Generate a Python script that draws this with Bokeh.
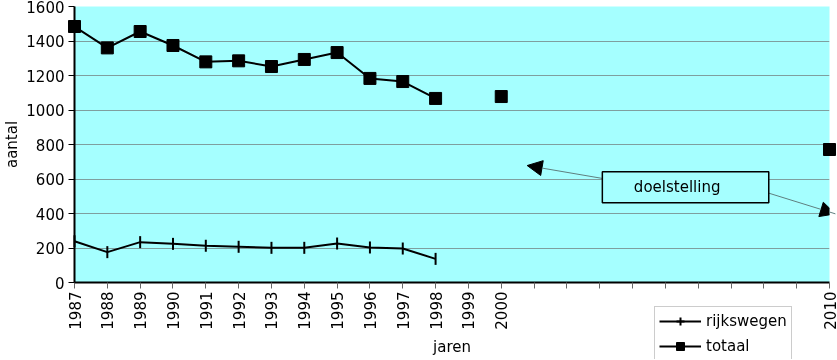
import math
from bokeh.plotting import figure
from bokeh.models import (FixedTicker, Legend, LegendItem, Arrow, NormalHead,
                          BoxAnnotation, Label, Range1d)
from bokeh.embed import file_html
from bokeh.resources import INLINE

# ---- data ----
years = ["1987", "1988", "1989", "1990", "1991", "1992", "1993", "1994",
         "1995", "1996", "1997", "1998", "1999", "2000", "2001", "2002",
         "2003", "2004", "2005", "2006", "2007", "2008", "2009", "2010"]
tick_labels = ["1987", "1988", "1989", "1990", "1991", "1992", "1993", "1994",
               "1995", "1996", "1997", "1998", "1999", "2000", "", "", "", "",
               "", "", "", "", "", "2010"]
NaN = float("nan")
totaal = [1484, 1360, 1455, 1374, 1279, 1285, 1252, 1293, 1333, 1183, 1165,
          1067, NaN, 1078, NaN, NaN, NaN, NaN, NaN, NaN, NaN, NaN, NaN, 771]
rijkswegen = [239, 176, 234, 224, 213, 207, 201, 201, 226, 203, 197, 137,
              NaN, NaN, NaN, NaN, NaN, NaN, NaN, NaN, NaN, NaN, NaN, NaN]
y_ticks = [0, 200, 400, 600, 800, 1000, 1200, 1400, 1600]
series_names = ["rijkswegen", "totaal"]

xs = list(range(len(years)))

FONT = "DejaVu Sans"
CYAN = "#A5FFFF"

p = figure(width=837, height=360, output_backend="svg", toolbar_location=None,
           x_range=Range1d(0, len(years) - 1), y_range=Range1d(0, 1600),
           min_border_left=74, min_border_right=8, min_border_top=6,
           min_border_bottom=78)
p.styles = {"position": "fixed", "left": "0px", "top": "0px"}
p.background_fill_color = CYAN
p.border_fill_color = "white"
p.outline_line_color = None

# axes
p.xaxis.ticker = FixedTicker(ticks=xs)
p.xaxis.major_label_overrides = {i: t for i, t in enumerate(tick_labels)}
p.xaxis.major_label_orientation = math.pi / 2
p.xaxis.axis_label = "jaren"
p.yaxis.ticker = FixedTicker(ticks=y_ticks)
p.yaxis.axis_label = "aantal"
for ax in (p.xaxis[0], p.yaxis[0]):
    ax.axis_line_color = "black"
    ax.axis_line_width = 2
    ax.major_tick_line_color = "black"
    ax.major_tick_line_width = 1
    ax.major_tick_in = 0
    ax.major_tick_out = 6
    ax.minor_tick_line_color = None
    ax.major_label_text_font = FONT
    ax.major_label_text_font_size = "15px"
    ax.major_label_text_color = "black"
    ax.axis_label_text_font = FONT
    ax.axis_label_text_font_size = "15px"
    ax.axis_label_text_font_style = "normal"
    ax.axis_label_text_color = "black"
p.xaxis.major_tick_line_color = "#666666"
p.xaxis.major_label_standoff = 3
p.yaxis.major_label_standoff = 4
p.xaxis.axis_label_standoff = 5
p.yaxis.axis_label_standoff = 2

p.xgrid.grid_line_color = None
p.ygrid.ticker = FixedTicker(ticks=y_ticks[1:-1])
p.ygrid.grid_line_color = "#7F9F9F"
p.ygrid.grid_line_width = 1

# series
line_kw = dict(line_color="black", line_width=2)
dash_kw = dict(marker="dash", angle=math.pi / 2, size=12,
               line_color="black", line_width=2)
sq_kw = dict(marker="square", size=12, fill_color="black", line_color="black")

p.line(xs, rijkswegen, **line_kw)
p.scatter(xs, rijkswegen, level="overlay", **dash_kw)
p.line(xs, totaal, **line_kw)
p.scatter(xs, totaal, level="overlay", **sq_kw)

# annotation "doelstelling"
head_kw = dict(size=15, fill_color="black", line_color="black")
p.add_layout(Arrow(x_start=16.09, y_start=603, x_end=13.79, y_end=678,
                   line_color="#5F7F7F", line_width=1, level="overlay",
                   end=NormalHead(**head_kw)))
p.add_layout(Arrow(x_start=21.15, y_start=518, x_end=23.18, y_end=398,
                   line_color="#5F7F7F", line_width=1, level="overlay",
                   end=NormalHead(**head_kw)))
p.add_layout(BoxAnnotation(left=16.08, right=21.15, bottom=462, top=642,
                           fill_color=CYAN, fill_alpha=1,
                           line_color="black", line_alpha=1, line_width=1.5,
                           level="overlay"))
p.add_layout(Label(x=17.04, y=552, text="doelstelling", text_font=FONT,
                   text_font_size="15px", text_color="black",
                   text_baseline="middle", text_align="left",
                   level="overlay"))

# legend: its own small panel, placed at the bottom right of the page
pl = figure(width=142, height=53, output_backend="svg", toolbar_location=None,
            x_axis_type=None, y_axis_type=None,
            x_range=Range1d(-100, -99), y_range=Range1d(-100, -99),
            min_border_left=0, min_border_right=0, min_border_top=0,
            min_border_bottom=0)
pl.styles = {"position": "fixed", "left": "654px", "top": "306px"}
pl.outline_line_color = None
pl.grid.visible = False
lr1 = pl.line(xs, rijkswegen, **line_kw)
sr1 = pl.scatter(xs, rijkswegen, marker="cross", size=12,
                 line_color="black", line_width=2)
lr2 = pl.line(xs, totaal, **line_kw)
sr2 = pl.scatter(xs, totaal, **sq_kw)
legend = Legend(items=[LegendItem(label=series_names[0], renderers=[lr1, sr1]),
                       LegendItem(label=series_names[1], renderers=[lr2, sr2])],
                location="top_left")
legend.label_text_font = FONT
legend.label_text_font_size = "15px"
legend.label_text_color = "black"
legend.glyph_width = 42
legend.glyph_height = 20
legend.label_height = 20
legend.label_standoff = 5
legend.spacing = 5
legend.padding = 4
legend.margin = 0
legend.border_line_color = "#999999"
legend.border_line_width = 1
legend.background_fill_color = "white"
legend.background_fill_alpha = 1
pl.add_layout(legend, "center")

open("out.html", "w").write(file_html([p, pl], INLINE))
